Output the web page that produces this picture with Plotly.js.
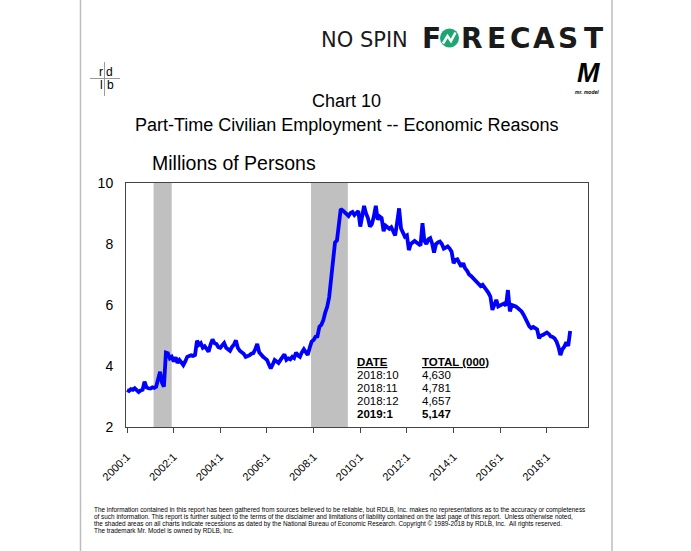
<!DOCTYPE html>
<html>
<head>
<meta charset="utf-8">
<script src="https://cdn.plot.ly/plotly-3.0.1.min.js"></script>
<style>html,body{margin:0;padding:0;background:#fff;}#chart{width:691px;height:551px;}</style>
</head>
<body>
<div id="chart"></div>
<script>
// ---- Data: Part-time for economic reasons, millions of persons (monthly) ----
const y2000 = [3.21,3.18,3.24,3.22,3.27,3.20,3.15,3.20,3.22,3.49,3.30,3.27];
const y2001 = [3.26,3.30,3.28,3.32,3.55,3.81,3.45,3.32,4.44,4.42,4.25,4.30];
const y2002 = [4.15,4.28,4.10,4.20,4.12,4.03,4.15,4.30,4.33,4.35,4.33,4.36];
const y2003 = [4.83,4.70,4.75,4.60,4.65,4.55,4.47,4.70,4.87,4.75,4.72,4.62];
const y2004 = [4.60,4.68,4.75,4.60,4.55,4.50,4.62,4.70,4.84,4.60,4.50,4.45];
const y2005 = [4.40,4.30,4.32,4.35,4.40,4.42,4.55,4.72,4.45,4.36,4.30,4.25];
const y2006 = [4.20,4.05,3.92,4.05,4.20,4.15,4.10,4.20,4.28,4.38,4.20,4.25];
const y2007 = [4.22,4.30,4.26,4.44,4.35,4.30,4.45,4.55,4.45,4.36,4.60,4.80];
const y2008 = [4.85,4.96,4.97,5.29,5.35,5.50,5.75,5.94,6.26,6.90,7.35,8.05];
const y2009 = [8.12,8.70,9.15,9.10,9.05,8.98,8.92,9.02,9.05,8.95,9.00,9.08];
const y2010 = [8.57,8.90,9.25,9.00,8.85,8.57,8.65,8.90,9.25,8.80,8.90,8.85];
const y2011 = [8.42,8.60,8.55,8.50,8.55,8.40,8.28,8.70,9.17,8.51,8.35,8.24];
const y2012 = [8.28,7.80,8.00,8.07,8.10,8.05,8.00,7.95,8.68,8.10,8.00,8.15];
const y2013 = [8.19,8.00,7.72,8.00,8.05,8.08,8.00,7.85,7.88,7.92,7.85,7.75];
const y2014 = [7.37,7.48,7.50,7.35,7.26,7.37,7.20,7.12,7.00,6.95,6.88,6.82];
const y2015 = [6.78,6.70,6.62,6.66,6.55,6.49,6.40,6.27,5.84,6.05,6.17,5.95];
const y2016 = [6.00,6.02,6.05,5.98,6.49,5.79,6.00,5.98,5.95,5.90,5.85,5.79];
const y2017 = [5.68,5.55,5.41,5.30,5.24,5.28,5.24,5.20,4.91,5.00,5.02,5.08];
const y2018 = [5.10,5.05,4.97,4.95,4.91,4.80,4.63,4.36,4.55,4.630,4.781,4.657];
const y2019 = [5.147];

const years = [2000,2001,2002,2003,2004,2005,2006,2007,2008,2009,2010,2011,2012,2013,2014,2015,2016,2017,2018,2019];
const yearly = [y2000,y2001,y2002,y2003,y2004,y2005,y2006,y2007,y2008,y2009,y2010,y2011,y2012,y2013,y2014,y2015,y2016,y2017,y2018,y2019];

// recession periods (NBER), as shaded on the chart
const recessionStart = ['2001-02-20','2007-11-22'];
const recessionEnd   = ['2001-12-01','2009-06-20'];

// x tick labels
const tickDates = ['2000-01-01','2002-01-01','2004-01-01','2006-01-01','2008-01-01','2010-01-01','2012-01-01','2014-01-01','2016-01-01','2018-01-01'];
const tickLabels = ['2000:1','2002:1','2004:1','2006:1','2008:1','2010:1','2012:1','2014:1','2016:1','2018:1'];

// latest-values table
const tableDates  = ['2018:10','2018:11','2018:12','2019:1'];
const tableTotals = ['4,630','4,781','4,657','5,147'];

// ---- build series ----
const xs = [], ys = [];
years.forEach((yr, i) => {
  yearly[i].forEach((v, m) => {
    xs.push(yr + '-' + String(m + 1).padStart(2, '0') + '-01');
    ys.push(v);
  });
});

// page-pixel -> paper helpers
const L = 126, R = 103, T = 183, B = 124, W = 691 - L - R, H = 551 - T - B;
const px = X => (X - L) / W;
const py = Y => (T + H - Y) / H;

const FONT = 'Liberation Sans, Arial, sans-serif';
const ann = [];
function txt(X, Y, text, size, opts) {
  opts = opts || {};
  ann.push(Object.assign({
    xref: 'paper', yref: 'paper', x: px(X), y: py(Y), text: text, showarrow: false,
    xanchor: opts.xanchor || 'center', yanchor: 'middle', borderpad: 0,
    font: {family: opts.family || FONT, size: size, color: opts.color || '#000'},
  }, opts.extra || {}));
}

// header logo
txt(364, 40, 'NO SPIN', 21, {family: 'DejaVu Sans, sans-serif', color: '#1a1a1a'});
const foreLetters = ['F','R','E','C','A','S','T'];
const foreX = [431, 472, 496, 520, 544, 568, 593];
foreLetters.forEach((c, i) => txt(foreX[i], 38, '<b>' + c + '</b>', 28, {family: 'DejaVu Sans, sans-serif', color: '#1a1a1a'}));

// rdlb logo
txt(101, 72, 'r', 12); txt(109.5, 72, 'd', 12);
txt(101.5, 85, 'l', 12); txt(110, 85, 'b', 12);

// Mr. Model logo
txt(588, 73, '<b><i>M</i></b>', 27);
txt(587, 91.5, '<b><i>mr. model</i></b>', 5);

// titles
txt(346, 101, 'Chart 10', 18);
txt(346, 125, 'Part-Time Civilian Employment -- Economic Reasons', 18);
txt(151, 163, 'Millions of Persons', 19.5, {xanchor: 'left'});

// table
txt(355.5, 362, '<b><u>DATE</u></b>', 11.5, {xanchor: 'left'});
txt(421, 362, '<b><u>TOTAL (000)</u></b>', 11.5, {xanchor: 'left'});
const rowY = [375, 388, 401, 414];
tableDates.forEach((d, i) => {
  const last = i === tableDates.length - 1;
  txt(355.5, rowY[i], last ? '<b>' + d + '</b>' : d, 11.5, {xanchor: 'left'});
  txt(421, rowY[i], last ? '<b>' + tableTotals[i] + '</b>' : tableTotals[i], 11.5, {xanchor: 'left'});
});

// footer
const footer = [
  'The information contained in this report has been gathered from sources believed to be reliable, but RDLB, Inc. makes no representations as to the accuracy or completeness',
  'of such information. This report is further subject to the terms of the disclaimer and limitations of liability contained on the last page of this report.  Unless otherwise noted,',
  'the shaded areas on all charts indicate recessions as dated by the National Bureau of Economic Research. Copyright \u00a9 1989-2018 by RDLB, Inc.  All rights reserved.',
  'The trademark Mr. Model is owned by RDLB, Inc.'
];
const footY = [510, 517, 524, 531];
footer.forEach((t, i) => txt(93, footY[i], t, 6.4, {xanchor: 'left'}));

// shapes
const shapes = [];
recessionStart.forEach((s, i) => shapes.push({
  type: 'rect', xref: 'x', yref: 'paper', x0: s, x1: recessionEnd[i], y0: 0, y1: 1,
  fillcolor: '#c0c0c0', line: {width: 0}, layer: 'below'
}));
// page border lines
shapes.push({type: 'line', xref: 'paper', yref: 'paper', x0: px(80.5), x1: px(80.5), y0: py(0), y1: py(551), line: {color: '#bdbdbd', width: 1.5}});
shapes.push({type: 'line', xref: 'paper', yref: 'paper', x0: px(612), x1: px(612), y0: py(0), y1: py(551), line: {color: '#bdbdbd', width: 1.5}});
// rdlb cross
shapes.push({type: 'line', xref: 'paper', yref: 'paper', x0: px(90), x1: px(120), y0: py(78.5), y1: py(78.5), line: {color: '#9a9a9a', width: 1}});
shapes.push({type: 'line', xref: 'paper', yref: 'paper', x0: px(104.5), x1: px(104.5), y0: py(62), y1: py(96), line: {color: '#9a9a9a', width: 1}});
// forecast "O"
shapes.push({type: 'circle', xref: 'paper', yref: 'paper', x0: px(440), x1: px(459), y0: py(47.5), y1: py(28.5), fillcolor: '#1ea672', line: {width: 0}});
const zz = [[443,43.5],[447.5,36],[451,41],[455.5,32.5]];
shapes.push({type: 'path', xref: 'paper', yref: 'paper',
  path: 'M' + zz.map(p => px(p[0]) + ',' + py(p[1])).join(' L'),
  line: {color: '#ffffff', width: 2.5}});

const trace = {
  x: xs, y: ys, type: 'scatter', mode: 'lines',
  line: {color: '#0000ff', width: 3.8}, hoverinfo: 'skip'
};

const layout = {
  width: 691, height: 551,
  margin: {l: L, r: R, t: T, b: B, pad: 0},
  paper_bgcolor: '#ffffff', plot_bgcolor: '#ffffff',
  showlegend: false,
  xaxis: {
    type: 'date', range: ['1999-12-16', '2019-10-07'],
    tickmode: 'array', tickvals: tickDates, ticktext: tickLabels,
    tickangle: -45, ticks: 'outside', ticklen: 5, tickcolor: '#444', tickwidth: 1,
    showgrid: false, zeroline: false, showline: true, linecolor: '#444', linewidth: 1, mirror: true,
    tickfont: {family: FONT, size: 11, color: '#000'}, ticklabelstandoff: 13
  },
  yaxis: {
    range: [2, 10], tickmode: 'array', tickvals: [2,4,6,8,10], ticktext: ['2','4','6','8','10'],
    ticks: '', showgrid: false, zeroline: false, showline: true, linecolor: '#444', linewidth: 1, mirror: true,
    tickfont: {family: FONT, size: 14, color: '#000'}, ticklabelstandoff: 9
  },
  shapes: shapes,
  annotations: ann
};

Plotly.newPlot('chart', [trace], layout, {displayModeBar: false, staticPlot: true});
</script>
</body>
</html>
